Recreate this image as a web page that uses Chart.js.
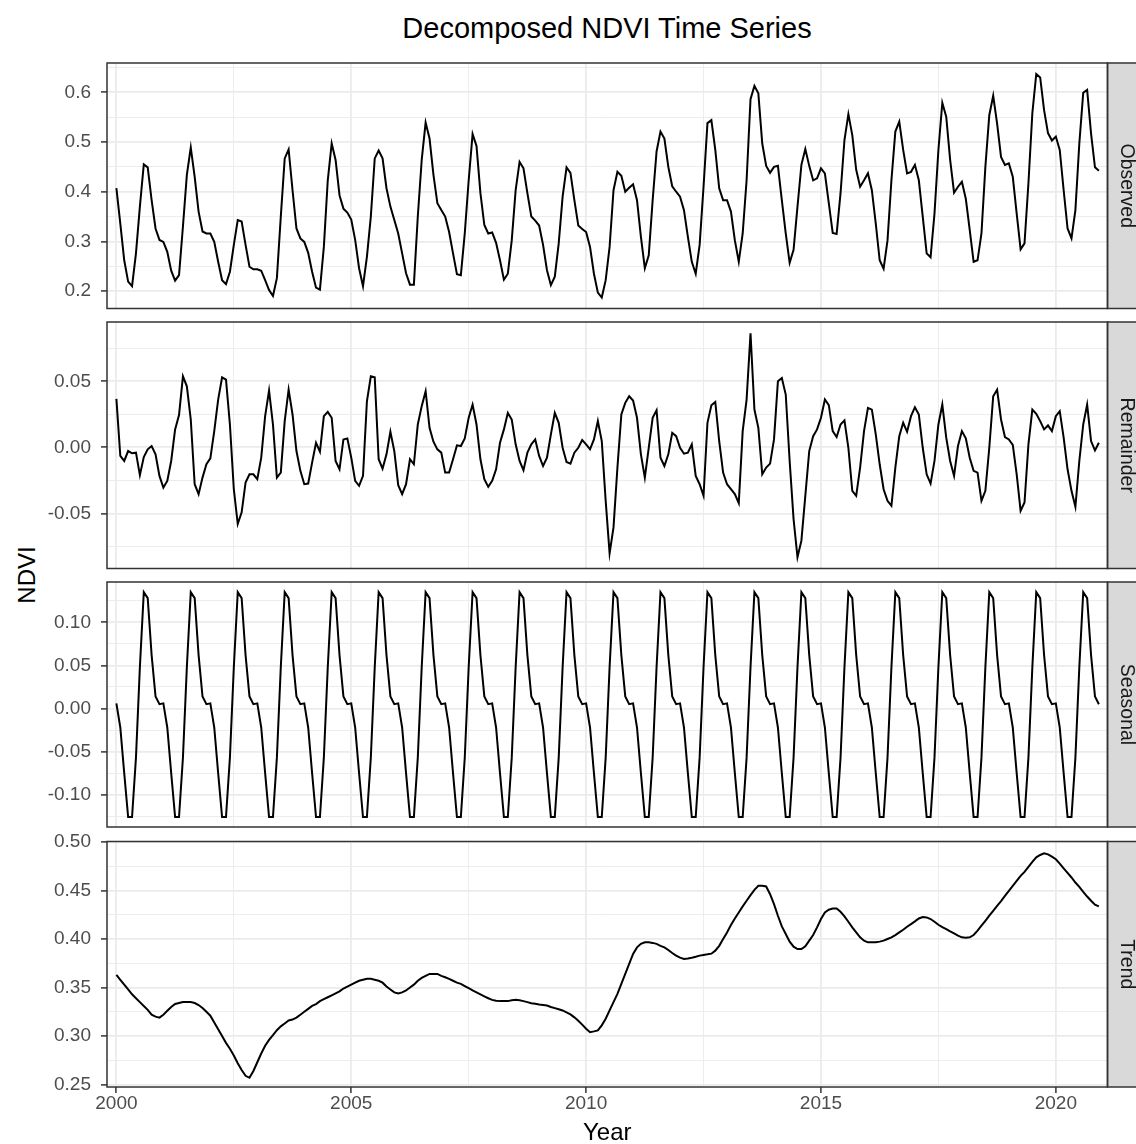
<!DOCTYPE html>
<html>
<head>
<meta charset="utf-8">
<title>Decomposed NDVI Time Series</title>
<script src="https://cdn.jsdelivr.net/npm/chart.js@4.4.1/dist/chart.umd.min.js"></script>
<style>
  html, body { margin: 0; padding: 0; background: #fff; }
  #wrap { position: relative; width: 1136px; height: 1144px; overflow: hidden; font-family: "Liberation Sans", Arial, sans-serif; }
  #wrap canvas { position: absolute; left: 0; }
  .title { position: absolute; left: 0; width: 1214px; top: 12px; text-align: center; font-size: 29px; line-height: 32px; color: #000; }
  .ytitle { position: absolute; left: 27px; top: 575px; font-size: 24px; line-height: 24px; color: #000; transform: translate(-50%, -50%) rotate(-90deg); white-space: nowrap; }
</style>
</head>
<body>
<div id="wrap">
  <div class="title">Decomposed NDVI Time Series</div>
  <div class="ytitle">NDVI</div>
</div>
<script>
// monthly series, Jan 2000 .. Dec 2020 (one row per year)
const startYear = 2000;

const observed = [
  0.407, 0.336, 0.262, 0.219, 0.210, 0.276, 0.370, 0.455, 0.449, 0.383, 0.326, 0.303,
  0.299, 0.279, 0.241, 0.221, 0.232, 0.330, 0.434, 0.489, 0.430, 0.360, 0.320, 0.316,
  0.316, 0.299, 0.259, 0.222, 0.214, 0.239, 0.293, 0.343, 0.340, 0.293, 0.249, 0.244,
  0.244, 0.241, 0.222, 0.202, 0.190, 0.226, 0.350, 0.467, 0.485, 0.403, 0.326, 0.306,
  0.299, 0.277, 0.239, 0.207, 0.203, 0.289, 0.423, 0.497, 0.464, 0.393, 0.366, 0.358,
  0.344, 0.303, 0.246, 0.210, 0.269, 0.350, 0.467, 0.483, 0.467, 0.407, 0.370, 0.343,
  0.316, 0.276, 0.236, 0.213, 0.213, 0.350, 0.464, 0.539, 0.507, 0.434, 0.377, 0.363,
  0.350, 0.319, 0.276, 0.234, 0.232, 0.316, 0.423, 0.516, 0.492, 0.397, 0.333, 0.316,
  0.318, 0.297, 0.262, 0.223, 0.235, 0.302, 0.403, 0.460, 0.447, 0.397, 0.350, 0.342,
  0.332, 0.293, 0.242, 0.212, 0.229, 0.296, 0.390, 0.449, 0.438, 0.383, 0.332, 0.325,
  0.319, 0.289, 0.235, 0.197, 0.187, 0.222, 0.289, 0.403, 0.440, 0.432, 0.400, 0.408,
  0.415, 0.383, 0.309, 0.246, 0.272, 0.383, 0.481, 0.521, 0.507, 0.450, 0.411, 0.400,
  0.390, 0.363, 0.309, 0.259, 0.235, 0.293, 0.410, 0.538, 0.544, 0.484, 0.407, 0.383,
  0.383, 0.360, 0.302, 0.259, 0.316, 0.423, 0.586, 0.613, 0.598, 0.497, 0.452, 0.438,
  0.450, 0.452, 0.383, 0.316, 0.257, 0.283, 0.370, 0.454, 0.486, 0.452, 0.423, 0.427,
  0.447, 0.437, 0.377, 0.317, 0.315, 0.397, 0.504, 0.556, 0.514, 0.444, 0.410, 0.423,
  0.437, 0.403, 0.336, 0.262, 0.245, 0.302, 0.423, 0.521, 0.541, 0.484, 0.437, 0.440,
  0.454, 0.423, 0.350, 0.276, 0.268, 0.356, 0.484, 0.579, 0.551, 0.464, 0.398, 0.410,
  0.420, 0.386, 0.323, 0.259, 0.262, 0.316, 0.450, 0.554, 0.593, 0.537, 0.470, 0.454,
  0.457, 0.430, 0.356, 0.284, 0.296, 0.417, 0.558, 0.637, 0.630, 0.564, 0.518, 0.503,
  0.511, 0.484, 0.403, 0.326, 0.306, 0.363, 0.497, 0.599, 0.605, 0.517, 0.449, 0.442
];

const remainder = [
  0.0367, -0.0065, -0.0103, -0.0028, -0.0045, -0.0040, -0.0210, -0.0073, -0.0015, 0.0010, -0.0053, -0.0216,
  -0.0304, -0.0254, -0.0103, 0.0136, 0.0244, 0.0538, 0.0462, 0.0211, -0.0279, -0.0354, -0.0229, -0.0128,
  -0.0083, 0.0123, 0.0362, 0.0530, 0.0513, 0.0173, -0.0317, -0.0580, -0.0492, -0.0266, -0.0204, -0.0204,
  -0.0241, -0.0078, 0.0236, 0.0430, 0.0173, -0.0229, -0.0191, 0.0199, 0.0437, 0.0249, -0.0028, -0.0178,
  -0.0279, -0.0274, -0.0116, 0.0035, -0.0033, 0.0236, 0.0269, 0.0224, -0.0103, -0.0166, 0.0060, 0.0068,
  -0.0078, -0.0254, -0.0291, -0.0216, 0.0349, 0.0538, 0.0530, -0.0090, -0.0161, -0.0053, 0.0118, -0.0028,
  -0.0286, -0.0354, -0.0279, -0.0090, -0.0128, 0.0173, 0.0312, 0.0425, 0.0148, 0.0043, -0.0015, -0.0040,
  -0.0191, -0.0191, -0.0090, 0.0015, 0.0010, 0.0068, 0.0224, 0.0324, 0.0173, -0.0090, -0.0241, -0.0299,
  -0.0254, -0.0166, 0.0035, 0.0136, 0.0261, 0.0211, 0.0023, -0.0103, -0.0173, -0.0040, 0.0023, 0.0060,
  -0.0065, -0.0141, -0.0078, 0.0098, 0.0261, 0.0186, -0.0003, -0.0111, -0.0123, -0.0040, -0.0003, 0.0055,
  0.0023, -0.0015, 0.0060, 0.0199, 0.0048, -0.0405, -0.0802, -0.0606, -0.0153, 0.0249, 0.0337, 0.0387,
  0.0354, 0.0224, -0.0053, -0.0229, -0.0003, 0.0224, 0.0281, -0.0078, -0.0141, -0.0053, 0.0110, 0.0085,
  -0.0003, -0.0048, -0.0040, 0.0023, -0.0216, -0.0279, -0.0367, 0.0186, 0.0319, 0.0344, 0.0048, -0.0191,
  -0.0279, -0.0317, -0.0354, -0.0422, 0.0123, 0.0362, 0.0864, 0.0286, 0.0148, -0.0204, -0.0153, -0.0123,
  0.0060, 0.0500, 0.0525, 0.0400, -0.0103, -0.0543, -0.0832, -0.0706, -0.0367, -0.0028, 0.0085, 0.0136,
  0.0224, 0.0362, 0.0319, 0.0123, 0.0078, 0.0173, 0.0204, -0.0003, -0.0329, -0.0367, -0.0153, 0.0123,
  0.0299, 0.0286, 0.0098, -0.0128, -0.0317, -0.0405, -0.0442, -0.0153, 0.0085, 0.0186, 0.0118, 0.0236,
  0.0304, 0.0249, -0.0003, -0.0204, -0.0274, -0.0103, 0.0173, 0.0324, 0.0073, -0.0103, -0.0216, 0.0010,
  0.0123, 0.0068, -0.0078, -0.0178, -0.0191, -0.0405, -0.0329, -0.0003, 0.0387, 0.0437, 0.0211, 0.0078,
  0.0060, 0.0018, -0.0204, -0.0480, -0.0417, 0.0023, 0.0286, 0.0254, 0.0199, 0.0136, 0.0166, 0.0123,
  0.0236, 0.0274, 0.0073, -0.0166, -0.0329, -0.0450, -0.0103, 0.0173, 0.0324, 0.0048, -0.0023, 0.0035
];

const seasonal = [
  0.006, -0.022, -0.075, -0.126, -0.126, -0.057, 0.048, 0.135, 0.128, 0.062, 0.014, 0.005,
  0.006, -0.022, -0.075, -0.126, -0.126, -0.057, 0.048, 0.135, 0.128, 0.062, 0.014, 0.005,
  0.006, -0.022, -0.075, -0.126, -0.126, -0.057, 0.048, 0.135, 0.128, 0.062, 0.014, 0.005,
  0.006, -0.022, -0.075, -0.126, -0.126, -0.057, 0.048, 0.135, 0.128, 0.062, 0.014, 0.005,
  0.006, -0.022, -0.075, -0.126, -0.126, -0.057, 0.048, 0.135, 0.128, 0.062, 0.014, 0.005,
  0.006, -0.022, -0.075, -0.126, -0.126, -0.057, 0.048, 0.135, 0.128, 0.062, 0.014, 0.005,
  0.006, -0.022, -0.075, -0.126, -0.126, -0.057, 0.048, 0.135, 0.128, 0.062, 0.014, 0.005,
  0.006, -0.022, -0.075, -0.126, -0.126, -0.057, 0.048, 0.135, 0.128, 0.062, 0.014, 0.005,
  0.006, -0.022, -0.075, -0.126, -0.126, -0.057, 0.048, 0.135, 0.128, 0.062, 0.014, 0.005,
  0.006, -0.022, -0.075, -0.126, -0.126, -0.057, 0.048, 0.135, 0.128, 0.062, 0.014, 0.005,
  0.006, -0.022, -0.075, -0.126, -0.126, -0.057, 0.048, 0.135, 0.128, 0.062, 0.014, 0.005,
  0.006, -0.022, -0.075, -0.126, -0.126, -0.057, 0.048, 0.135, 0.128, 0.062, 0.014, 0.005,
  0.006, -0.022, -0.075, -0.126, -0.126, -0.057, 0.048, 0.135, 0.128, 0.062, 0.014, 0.005,
  0.006, -0.022, -0.075, -0.126, -0.126, -0.057, 0.048, 0.135, 0.128, 0.062, 0.014, 0.005,
  0.006, -0.022, -0.075, -0.126, -0.126, -0.057, 0.048, 0.135, 0.128, 0.062, 0.014, 0.005,
  0.006, -0.022, -0.075, -0.126, -0.126, -0.057, 0.048, 0.135, 0.128, 0.062, 0.014, 0.005,
  0.006, -0.022, -0.075, -0.126, -0.126, -0.057, 0.048, 0.135, 0.128, 0.062, 0.014, 0.005,
  0.006, -0.022, -0.075, -0.126, -0.126, -0.057, 0.048, 0.135, 0.128, 0.062, 0.014, 0.005,
  0.006, -0.022, -0.075, -0.126, -0.126, -0.057, 0.048, 0.135, 0.128, 0.062, 0.014, 0.005,
  0.006, -0.022, -0.075, -0.126, -0.126, -0.057, 0.048, 0.135, 0.128, 0.062, 0.014, 0.005,
  0.006, -0.022, -0.075, -0.126, -0.126, -0.057, 0.048, 0.135, 0.128, 0.062, 0.014, 0.005
];

const trend = [
  0.363, 0.358, 0.353, 0.348, 0.343, 0.339, 0.335, 0.331, 0.327, 0.322, 0.320, 0.319,
  0.322, 0.326, 0.330, 0.333, 0.334, 0.335, 0.335, 0.335, 0.334, 0.332, 0.329, 0.325,
  0.321, 0.314, 0.307, 0.300, 0.293, 0.287, 0.280, 0.272, 0.265, 0.259, 0.257, 0.264,
  0.273, 0.282, 0.290, 0.296, 0.301, 0.306, 0.310, 0.313, 0.316, 0.317, 0.319, 0.322,
  0.325, 0.328, 0.331, 0.333, 0.336, 0.338, 0.340, 0.342, 0.344, 0.346, 0.349, 0.351,
  0.353, 0.355, 0.357, 0.358, 0.359, 0.359, 0.358, 0.357, 0.355, 0.351, 0.348, 0.345,
  0.344, 0.345, 0.347, 0.350, 0.353, 0.357, 0.360, 0.362, 0.364, 0.364, 0.364, 0.362,
  0.3606, 0.3590, 0.3570, 0.3550, 0.3538, 0.3515, 0.3493, 0.3470, 0.3450, 0.3430, 0.3408, 0.3390,
  0.3373, 0.3365, 0.3360, 0.3360, 0.3360, 0.3368, 0.3373, 0.3368, 0.3360, 0.3350, 0.3339, 0.3332,
  0.3325, 0.3320, 0.3315, 0.3300, 0.3288, 0.3276, 0.3264, 0.3245, 0.3223, 0.3193, 0.3158, 0.3118,
  0.3075, 0.3040, 0.3048, 0.3058, 0.3110, 0.3178, 0.3264, 0.3350, 0.3435, 0.3538, 0.3640, 0.3743,
  0.3846, 0.3914, 0.3950, 0.3966, 0.3966, 0.3960, 0.3950, 0.3930, 0.3914, 0.3887, 0.3856, 0.3829,
  0.3808, 0.3795, 0.3800, 0.3808, 0.3818, 0.3829, 0.3836, 0.3842, 0.3849, 0.3880, 0.3930, 0.4000,
  0.4068, 0.4144, 0.4212, 0.4274, 0.4336, 0.4394, 0.4452, 0.4507, 0.4548, 0.4548, 0.4541, 0.4462,
  0.4360, 0.4240, 0.4130, 0.4051, 0.3973, 0.3921, 0.3897, 0.3897, 0.3925, 0.3983, 0.4041, 0.4120,
  0.4206, 0.4274, 0.4302, 0.4315, 0.4315, 0.4281, 0.4233, 0.4178, 0.4120, 0.4068, 0.4017, 0.3983,
  0.3966, 0.3966, 0.3966, 0.3973, 0.3983, 0.4000, 0.4017, 0.4041, 0.4068, 0.4096, 0.4127, 0.4154,
  0.4182, 0.4212, 0.4226, 0.4223, 0.4206, 0.4178, 0.4147, 0.4123, 0.4103, 0.4079, 0.4058, 0.4034,
  0.4017, 0.4014, 0.4017, 0.4041, 0.4086, 0.4137, 0.4188, 0.4240, 0.4291, 0.4342, 0.4390, 0.4445,
  0.4497, 0.4548, 0.4600, 0.4651, 0.4692, 0.4743, 0.4795, 0.4842, 0.4866, 0.4884, 0.4873, 0.4849,
  0.4822, 0.4777, 0.4729, 0.4681, 0.4634, 0.4582, 0.4538, 0.4486, 0.4438, 0.4394, 0.4353, 0.4336
];

// x axis breaks (years); majors get labels
const yearTicks = [2000, 2002.5, 2005, 2007.5, 2010, 2012.5, 2015, 2017.5, 2020];
const yearLabels = [2000, 2005, 2010, 2015, 2020];

const panels = [
  { name: 'Observed',  values: observed,  top: 63,    bottom: 308.5, min: 0.165,   max: 0.659,
    major: [0.2, 0.3, 0.4, 0.5, 0.6], minor: [0.25, 0.35, 0.45, 0.55, 0.65], digits: 1 },
  { name: 'Remainder', values: remainder, top: 322,   bottom: 568.5, min: -0.0917, max: 0.0949,
    major: [-0.05, 0, 0.05], minor: [-0.075, -0.025, 0.025, 0.075], digits: 2 },
  { name: 'Seasonal',  values: seasonal,  top: 582,   bottom: 827,   min: -0.1375, max: 0.1468,
    major: [-0.1, -0.05, 0, 0.05, 0.1], minor: [-0.125, -0.075, -0.025, 0.025, 0.075, 0.125], digits: 2 },
  { name: 'Trend',     values: trend,     top: 841.5, bottom: 1087,  min: 0.2475,  max: 0.5005,
    major: [0.25, 0.3, 0.35, 0.4, 0.45, 0.5], minor: [0.275, 0.325, 0.375, 0.425, 0.475], digits: 2 }
];

const W = 1136, H = 1144;
const PANEL_LEFT = 107, PANEL_RIGHT = 1107.5;
const AXIS_W = 90, PAD = 26, X_AXIS_H = H - 1087;
const FONT = '"Liberation Sans", Arial, sans-serif';
const GRID = '#EBEBEB', INK = '#333333';

const isIn = (arr, v) => arr.some(a => Math.abs(a - v) < 1e-9);

// panel border + grey facet strip on the right
const facetFrame = {
  id: 'facetFrame',
  afterDraw(chart, args, opts) {
    const { ctx, chartArea: a } = chart;
    ctx.save();
    ctx.fillStyle = '#D9D9D9';
    ctx.fillRect(a.right, a.top, 40, a.bottom - a.top);
    ctx.strokeStyle = INK;
    ctx.lineWidth = 1.5;
    ctx.strokeRect(a.left, a.top, a.right - a.left, a.bottom - a.top);
    ctx.strokeRect(a.right, a.top, 40, a.bottom - a.top);
    ctx.translate(a.right + 18.5, (a.top + a.bottom) / 2);
    ctx.rotate(Math.PI / 2);
    ctx.fillStyle = '#1A1A1A';
    ctx.font = '19.5px ' + FONT;
    ctx.textAlign = 'center';
    ctx.textBaseline = 'middle';
    ctx.fillText(opts.label, 0, 0);
    ctx.restore();
  }
};

const wrap = document.getElementById('wrap');

panels.forEach((p, k) => {
  const last = k === panels.length - 1;
  const cTop = Math.round(p.top) - PAD;
  const cH = last ? H - cTop : Math.round(p.bottom) + PAD - cTop;
  const canvas = document.createElement('canvas');
  canvas.width = W;
  canvas.height = cH;
  canvas.style.top = cTop + 'px';
  wrap.appendChild(canvas);

  const points = p.values.map((v, i) => ({ x: startYear + i / 12, y: v }));

  new Chart(canvas, {
    type: 'line',
    data: {
      datasets: [{
        data: points,
        borderColor: '#000',
        borderWidth: 2,
        pointRadius: 0,
        tension: 0,
        fill: false
      }]
    },
    plugins: [facetFrame],
    options: {
      responsive: false,
      animation: false,
      devicePixelRatio: 1,
      layout: {
        padding: {
          left: PANEL_LEFT - AXIS_W,
          right: W - PANEL_RIGHT,
          top: p.top - cTop,
          bottom: last ? 0 : cTop + cH - p.bottom
        }
      },
      plugins: {
        legend: { display: false },
        tooltip: { enabled: false },
        facetFrame: { label: p.name }
      },
      scales: {
        x: {
          type: 'linear',
          min: 1999.8,
          max: 2021.1,
          afterBuildTicks: s => { s.ticks = yearTicks.map(v => ({ value: v })); },
          afterFit: s => { s.height = last ? X_AXIS_H : 0; },
          border: { display: false },
          grid: {
            color: GRID,
            lineWidth: c => isIn(yearLabels, c.tick.value) ? 1.8 : 0.9,
            drawTicks: last,
            tickLength: 6,
            tickWidth: 1.5,
            tickColor: c => isIn(yearLabels, c.tick.value) ? INK : 'rgba(0,0,0,0)'
          },
          ticks: {
            display: last,
            autoSkip: false,
            maxRotation: 0,
            padding: -1,
            color: '#4D4D4D',
            font: { family: FONT, size: 19 },
            callback: v => isIn(yearLabels, v) ? String(v) : ''
          },
          title: {
            display: last,
            text: 'Year',
            color: '#000',
            font: { family: FONT, size: 24, lineHeight: 1 },
            padding: { top: 0, bottom: -1 }
          }
        },
        y: {
          min: p.min,
          max: p.max,
          afterBuildTicks: s => { s.ticks = p.major.concat(p.minor).sort((a, b) => a - b).map(v => ({ value: v })); },
          afterFit: s => { s.width = AXIS_W; },
          border: { display: false },
          grid: {
            color: GRID,
            lineWidth: c => isIn(p.major, c.tick.value) ? 1.8 : 0.9,
            tickLength: 6,
            tickWidth: 1.5,
            tickColor: c => isIn(p.major, c.tick.value) ? INK : 'rgba(0,0,0,0)'
          },
          ticks: {
            autoSkip: false,
            padding: 10,
            color: '#4D4D4D',
            font: { family: FONT, size: 19 },
            callback: v => isIn(p.major, v) ? Number(v).toFixed(p.digits) : ''
          }
        }
      }
    }
  });
});
</script>
</body>
</html>
